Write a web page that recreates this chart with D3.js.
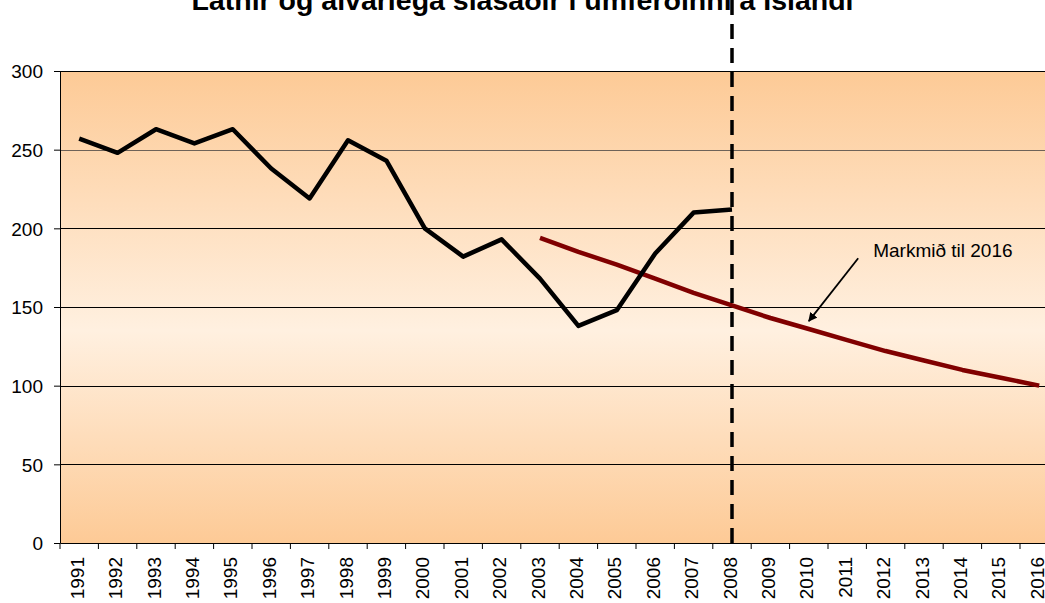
<!DOCTYPE html>
<html lang="is">
<head>
<meta charset="UTF-8">
<title>Látnir og alvarlega slasaðir</title>
<script src="https://d3js.org/d3.v7.min.js"></script>
<style>
  body { margin: 0; background: #fff; }
  svg text { font-family: Arial, "Liberation Sans", sans-serif; fill: #000; }
  .title { font-size: 28.5px; font-weight: bold; }
  .tick text { font-size: 19px; }
</style>
</head>
<body>
<div id="chart"></div>
<script>
// Data
const years = ["1991","1992","1993","1994","1995","1996","1997","1998","1999","2000","2001","2002","2003",
               "2004","2005","2006","2007","2008","2009","2010","2011","2012","2013","2014","2015","2016"];
const actualYears = years.slice(0, 18);   // 1991-2008
const actualValues = [257, 248, 263, 254, 263, 238, 219, 256, 243, 200, 182, 193, 168, 138, 148, 184, 210, 212];
const targetYears = years.slice(12);      // 2003-2016
const targetValues = [194, 185, 177, 168, 159, 151, 143, 136, 129, 122, 116, 110, 105, 100];
const yTicks = [0, 50, 100, 150, 200, 250, 300];
const title = "Látnir og alvarlega slasaðir í umferðinni á Íslandi";
const noteText = "Markmið til 2016";
const markerYear = "2008";

const width = 1045, height = 603;
const margin = { top: 71, left: 60, bottom: 60 };
const plotW = 998.4;   // plot runs past the right edge of the picture
const plotH = height - margin.top - margin.bottom;

const svg = d3.select("#chart").append("svg")
    .attr("width", width)
    .attr("height", height);

const defs = svg.append("defs");
const grad = defs.append("linearGradient")
    .attr("id", "bg").attr("x1", 0).attr("y1", 0).attr("x2", 0).attr("y2", 1);
grad.append("stop").attr("offset", "0%").attr("stop-color", "#fdca96");
grad.append("stop").attr("offset", "55%").attr("stop-color", "#fff0e0");
grad.append("stop").attr("offset", "100%").attr("stop-color", "#fdca96");

defs.append("marker")
    .attr("id", "arrow")
    .attr("viewBox", "0 0 10 10")
    .attr("refX", 9).attr("refY", 5)
    .attr("markerWidth", 9).attr("markerHeight", 9)
    .attr("markerUnits", "userSpaceOnUse")
    .attr("orient", "auto")
    .append("path")
    .attr("d", "M0,0 L10,5 L0,10 z")
    .attr("fill", "#000");

const g = svg.append("g").attr("transform", `translate(${margin.left},${margin.top})`);

const x = d3.scaleBand().domain(years).range([0, plotW]);
const y = d3.scaleLinear().domain([0, 300]).range([plotH, 0]);
const cx = d => x(d) + x.bandwidth() / 2;

// Plot background
g.append("rect")
    .attr("width", plotW).attr("height", plotH)
    .attr("fill", "url(#bg)");

// Gridlines
g.selectAll(".grid")
    .data(yTicks.filter(d => d > 0))
    .join("line")
    .attr("x1", 0).attr("x2", plotW)
    .attr("y1", d => Math.round(y(d)) + 0.5)
    .attr("y2", d => Math.round(y(d)) + 0.5)
    .attr("stroke", d => d === 250 ? "#6e6258" : "#000")
    .attr("stroke-width", 1);

// Axes
const yAxis = g.append("g")
    .call(d3.axisLeft(y).tickValues(yTicks).tickSize(6).tickPadding(11).tickSizeOuter(0));
yAxis.select(".domain").attr("stroke", "#000");
yAxis.selectAll(".tick text").attr("dy", "0.36em");

const xAxis = g.append("g")
    .attr("transform", `translate(0,${plotH})`)
    .call(d3.axisBottom(x).tickSize(0).tickSizeOuter(0));
xAxis.select(".domain").attr("stroke", "#000");
xAxis.selectAll(".tick line").remove();
xAxis.selectAll(".tick text")
    .attr("transform", "rotate(-90)")
    .attr("text-anchor", "end")
    .attr("x", -14)
    .attr("y", -2)
    .attr("dy", "0.35em");

// Tick marks between categories
g.selectAll(".xtick")
    .data(years.concat(["end"]))
    .join("line")
    .attr("x1", (d, i) => i * x.bandwidth())
    .attr("x2", (d, i) => i * x.bandwidth())
    .attr("y1", plotH).attr("y2", plotH + 6)
    .attr("stroke", "#000");

// Top border
g.append("line")
    .attr("x1", 0).attr("x2", plotW)
    .attr("y1", 0.5).attr("y2", 0.5)
    .attr("stroke", "#000");

// Lines
const line = d3.line().x(d => cx(d[0])).y(d => y(d[1]));

g.append("path")
    .datum(targetYears.map((yr, i) => [yr, targetValues[i]]))
    .attr("d", line)
    .attr("fill", "none")
    .attr("stroke", "#800000")
    .attr("stroke-width", 4.5)
    .attr("stroke-linejoin", "round");

g.append("path")
    .datum(actualYears.map((yr, i) => [yr, actualValues[i]]))
    .attr("d", line)
    .attr("fill", "none")
    .attr("stroke", "#000")
    .attr("stroke-width", 4.5)
    .attr("stroke-linejoin", "round");

// Dashed marker for 2008
g.append("line")
    .attr("x1", cx(markerYear)).attr("x2", cx(markerYear))
    .attr("y1", -margin.top).attr("y2", plotH)
    .attr("stroke", "#000")
    .attr("stroke-width", 3.5)
    .attr("stroke-dasharray", "15,9");

// Annotation
g.append("text")
    .attr("x", cx("2011") + 26)
    .attr("y", y(182))
    .style("font-size", "19px")
    .text(noteText);

g.append("line")
    .attr("x1", cx("2011") + 11).attr("y1", y(181))
    .attr("x2", cx("2010")).attr("y2", y(141))
    .attr("stroke", "#000")
    .attr("stroke-width", 1.8)
    .attr("marker-end", "url(#arrow)");

// Title
svg.append("text")
    .attr("class", "title")
    .attr("x", width / 2)
    .attr("y", 10)
    .attr("text-anchor", "middle")
    .text(title);
</script>
</body>
</html>
